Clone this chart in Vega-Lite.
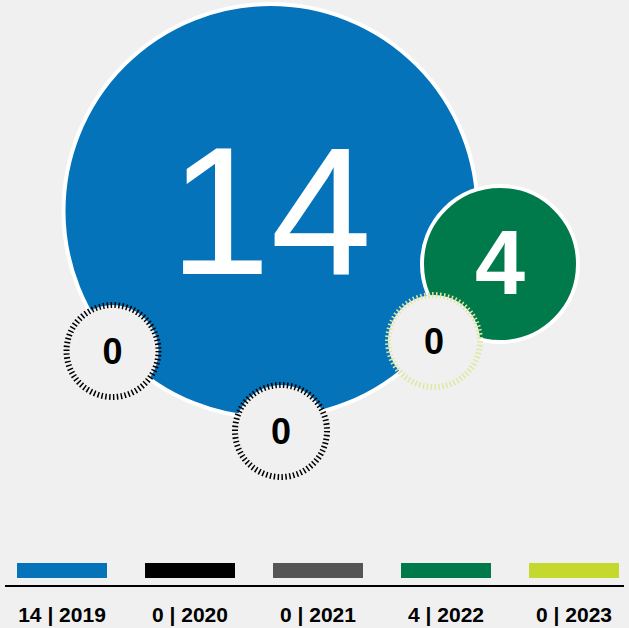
{
  "$schema": "https://vega.github.io/schema/vega-lite/v6.json",
  "background": "#f0f0f0",
  "padding": 0,
  "spacing": 0,
  "bounds": "flush",
  "config": {"view": {"stroke": null}},
  "datasets": {
    "bubbles": [
      {"year": "2019", "value": 14, "cx": 270.5, "cy": 211},
      {"year": "2022", "value": 4, "cx": 500, "cy": 264},
      {"year": "2020", "value": 0, "cx": 112.5, "cy": 351},
      {"year": "2021", "value": 0, "cx": 281, "cy": 431},
      {"year": "2023", "value": 0, "cx": 434, "cy": 341}
    ],
    "legend": [
      {"year": "2019", "value": 14, "label": "14 | 2019"},
      {"year": "2020", "value": 0, "label": "0 | 2020"},
      {"year": "2021", "value": 0, "label": "0 | 2021"},
      {"year": "2022", "value": 4, "label": "4 | 2022"},
      {"year": "2023", "value": 0, "label": "0 | 2023"}
    ]
  },
  "vconcat": [
    {
      "width": 629,
      "height": 550,
      "data": {"name": "bubbles"},
      "encoding": {
        "x": {"field": "cx", "type": "quantitative", "scale": {"domain": [0, 629], "nice": false, "zero": false}, "axis": null},
        "y": {"field": "cy", "type": "quantitative", "scale": {"domain": [0, 550], "nice": false, "zero": false, "reverse": true}, "axis": null}
      },
      "layer": [
        {
          "transform": [{"filter": "datum.value > 0"}],
          "mark": {"type": "point", "shape": "circle", "filled": true, "stroke": "white", "strokeWidth": 4, "strokeJoin": "round", "opacity": 1, "strokeOpacity": 1},
          "encoding": {
            "size": {"field": "value", "type": "quantitative", "scale": {"domain": [4, 14], "range": [24336, 171396], "zero": false}, "legend": null},
            "fill": {"field": "year", "type": "nominal", "scale": {"domain": ["2019", "2020", "2021", "2022", "2023"], "range": ["#0473ba", "#000000", "#555555", "#007a4b", "#c4d82e"]}, "legend": null}
          }
        },
        {
          "transform": [{"filter": "datum.value == 0"}],
          "mark": {"type": "point", "shape": "circle", "filled": true, "fill": "#f0f0f0", "size": 8464, "strokeWidth": 6, "strokeJoin": "round", "strokeDash": [1.5, 2.4], "opacity": 1, "strokeOpacity": 1},
          "encoding": {
            "stroke": {"field": "year", "type": "nominal", "scale": {"domain": ["2020", "2021", "2023"], "range": ["#000000", "#000000", "#dfe7a3"]}, "legend": null}
          }
        },
        {
          "transform": [{"filter": "datum.value > 5"}],
          "mark": {"type": "text", "font": "Liberation Sans", "fontSize": 182, "fontWeight": "normal", "fill": "white", "align": "center", "baseline": "middle", "dy": 8},
          "encoding": {"text": {"field": "value", "type": "quantitative"}}
        },
        {
          "transform": [{"filter": "datum.value > 0 && datum.value <= 5"}],
          "mark": {"type": "text", "font": "Liberation Sans", "fontSize": 90, "fontWeight": "bold", "fill": "white", "align": "center", "baseline": "middle", "dy": 3},
          "encoding": {"text": {"field": "value", "type": "quantitative"}}
        },
        {
          "transform": [{"filter": "datum.value == 0"}],
          "mark": {"type": "text", "font": "Liberation Sans", "fontSize": 36, "fontWeight": "bold", "fill": "black", "align": "center", "baseline": "middle", "dy": 2},
          "encoding": {"text": {"field": "value", "type": "quantitative"}}
        }
      ]
    },
    {
      "width": 629,
      "height": 78,
      "layer": [
        {
          "data": {"name": "legend"},
          "mark": {"type": "bar"},
          "encoding": {
            "x": {"field": "year", "type": "nominal", "sort": null, "scale": {"paddingInner": 0.297, "paddingOuter": 0.1055, "align": 0.63}, "axis": null},
            "y": {"value": 13},
            "y2": {"value": 28},
            "color": {"field": "year", "type": "nominal", "scale": {"domain": ["2019", "2020", "2021", "2022", "2023"], "range": ["#0473ba", "#000000", "#555555", "#007a4b", "#c4d82e"]}, "legend": null}
          }
        },
        {
          "data": {"values": [{}]},
          "mark": {"type": "rule", "color": "black", "strokeWidth": 2},
          "encoding": {"x": {"value": 5}, "x2": {"value": 624}, "y": {"value": 36}}
        },
        {
          "data": {"name": "legend"},
          "mark": {"type": "text", "font": "Liberation Sans", "fontSize": 21, "fontWeight": "bold", "fill": "black", "align": "center", "baseline": "middle", "dy": 1},
          "encoding": {
            "x": {"field": "year", "type": "nominal", "sort": null, "bandPosition": 0.5, "axis": null},
            "y": {"value": 65},
            "text": {"field": "label", "type": "nominal"}
          }
        }
      ]
    }
  ]
}
